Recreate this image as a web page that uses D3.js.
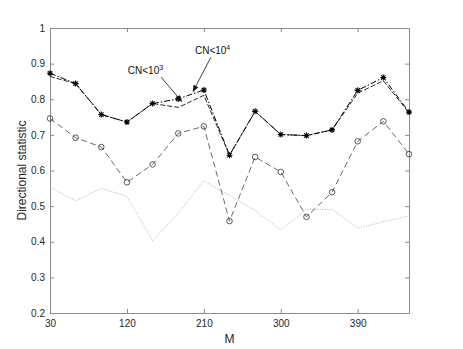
<!DOCTYPE html>
<html><head><meta charset="utf-8">
<script src="https://cdn.jsdelivr.net/npm/d3@7"></script>
<style>body{margin:0;background:#fff}svg{display:block}text{font-family:"Liberation Sans",Arial,sans-serif}</style>
</head><body><svg id="c" width="463" height="349"></svg>
<script>
const M = [30,60,90,120,150,180,210,240,270,300,330,360,390,420,450];
const cn4 = [0.873,0.844,0.757,0.736,0.788,0.801,0.826,0.643,0.766,0.701,0.698,0.714,0.825,0.861,0.764];
const cn3 = [0.864,0.844,0.757,0.736,0.788,0.777,0.811,0.643,0.766,0.701,0.698,0.714,0.817,0.852,0.762];
const circ = [0.746,0.692,0.666,0.567,0.617,0.704,0.724,0.458,0.638,0.596,0.470,0.539,0.682,0.738,0.646];
const dotted = [0.553,0.515,0.550,0.528,0.403,0.480,0.571,0.530,0.487,0.433,0.491,0.491,0.438,0.456,0.473];
const xTicks = [30,120,210,300,390];
const yTicks = [0.2,0.3,0.4,0.5,0.6,0.7,0.8,0.9,1];
const annLabels = ["CN<10","CN<10"];
const annSups = ["3","4"];
const annText = [[121,0.870],[199.6,0.926]];
const annFrom = [[160,0.862],[218.3,0.918]];
const annTo = [[184.7,0.792],[196.9,0.820]];

const svg = d3.select("#c");
const W = 463, H = 349;
const m = {l:50, r:54, t:28, b:36};
const x = d3.scaleLinear().domain([30,450]).range([m.l, W-m.r]);
const y = d3.scaleLinear().domain([0.2,1]).range([H-m.b, m.t]);
const axisCol = "#8a8a8a", txtCol = "#262626";

function styleAxis(g){
  g.selectAll("path").attr("stroke", axisCol).attr("stroke-width",1);
  g.selectAll("line").attr("stroke", axisCol);
  g.selectAll("text").attr("fill", txtCol).attr("font-size", 10);
}
svg.append("g").attr("transform",`translate(0,${H-m.b})`)
  .call(d3.axisBottom(x).tickValues(xTicks).tickSizeInner(-4).tickSizeOuter(0).tickPadding(7).tickFormat(d3.format("d")))
  .call(styleAxis);
svg.append("g").attr("transform",`translate(0,${m.t})`)
  .call(d3.axisTop(x).tickValues(xTicks).tickSizeInner(-4).tickSizeOuter(0).tickFormat(""))
  .call(styleAxis);
svg.append("g").attr("transform",`translate(${m.l},0)`)
  .call(d3.axisLeft(y).tickValues(yTicks).tickSizeInner(-4).tickSizeOuter(0).tickPadding(5).tickFormat(d => d===1?"1":d3.format(".1f")(d)))
  .call(styleAxis);
svg.append("g").attr("transform",`translate(${W-m.r},0)`)
  .call(d3.axisRight(y).tickValues(yTicks).tickSizeInner(-4).tickSizeOuter(0).tickFormat(""))
  .call(styleAxis);

const line = d3.line().x((d,i)=>x(M[i])).y(d=>y(d));

svg.append("path").datum(dotted).attr("d",line).attr("fill","none")
  .attr("stroke","#a8a8a8").attr("stroke-width",0.9).attr("stroke-dasharray","1,1.5");
svg.append("path").datum(circ).attr("d",line).attr("fill","none")
  .attr("stroke","#444").attr("stroke-width",0.8).attr("stroke-dasharray","6,3.5");
svg.append("g").selectAll("circle").data(circ).join("circle")
  .attr("cx",(d,i)=>x(M[i])).attr("cy",d=>y(d)).attr("r",2.8)
  .attr("fill","none").attr("stroke","#333").attr("stroke-width",0.8);

svg.append("path").datum(cn3).attr("d",line).attr("fill","none")
  .attr("stroke","#111").attr("stroke-width",0.9).attr("stroke-dasharray","5,2");
svg.append("path").datum(cn4).attr("d",line).attr("fill","none")
  .attr("stroke","#000").attr("stroke-width",1).attr("stroke-dasharray","6,2,1.5,2");

const s = 3, s2 = 2.2;
const star = `M${-s},0L${s},0M0,${-s}L0,${s}M${-s2},${-s2}L${s2},${s2}M${-s2},${s2}L${s2},${-s2}`;
svg.append("g").selectAll("path").data(cn4).join("path")
  .attr("transform",(d,i)=>`translate(${x(M[i])},${y(d)})`)
  .attr("d",star).attr("stroke","#000").attr("stroke-width",1.1).attr("fill","none");

// annotations
annLabels.forEach((lab,i)=>{
  const t = svg.append("text").attr("x",x(annText[i][0])).attr("y",y(annText[i][1]))
    .attr("font-size",10).attr("fill","#111");
  t.append("tspan").text(lab);
  t.append("tspan").attr("dy",-4).attr("font-size",7).text(annSups[i]);
  const x1=x(annFrom[i][0]), y1=y(annFrom[i][1]), x2=x(annTo[i][0]), y2=y(annTo[i][1]);
  const ang = Math.atan2(y2-y1,x2-x1), L=7, Wd=2.6;
  const bx = x2-L*Math.cos(ang), by = y2-L*Math.sin(ang);
  svg.append("line").attr("x1",x1).attr("y1",y1).attr("x2",bx).attr("y2",by)
    .attr("stroke","#111").attr("stroke-width",0.8);
  const px=-Math.sin(ang), py=Math.cos(ang);
  svg.append("path").attr("d",`M${x2},${y2}L${bx+px*Wd},${by+py*Wd}L${bx-px*Wd},${by-py*Wd}Z`)
    .attr("fill","#111");
});

svg.append("text").attr("x",(m.l+W-m.r)/2).attr("y",H-6).attr("text-anchor","middle")
  .attr("font-size",12).attr("fill",txtCol).text("M");
svg.append("text").attr("transform",`translate(26,${(m.t+H-m.b)/2}) rotate(-90)`)
  .attr("text-anchor","middle").attr("font-size",12).attr("fill",txtCol).text("Directional statistic");
</script></body></html>
